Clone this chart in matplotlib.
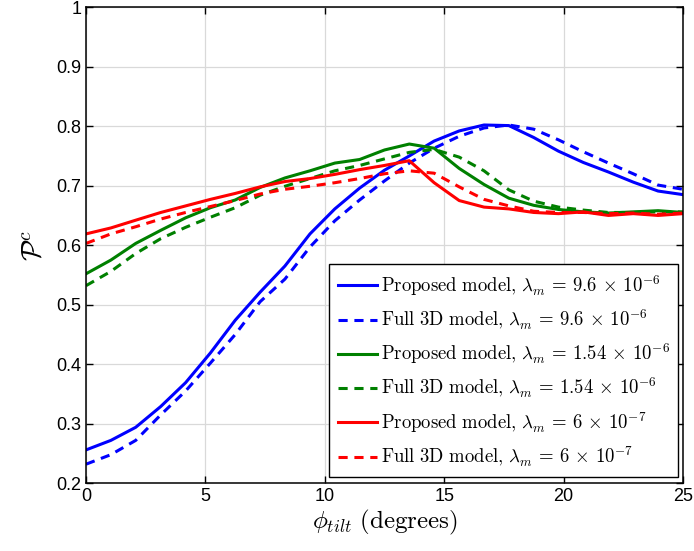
import matplotlib
matplotlib.use("Agg")
import matplotlib.pyplot as plt

plt.rcParams["font.family"] = ["Liberation Sans", "DejaVu Sans"]
plt.rcParams["mathtext.fontset"] = "cm"

# tilt angle samples (degrees)
tilt = [0, 1.04, 2.08, 3.13, 4.17, 5.21, 6.25, 7.29, 8.33, 9.38, 10.42, 11.46, 12.5,
        13.54, 14.58, 15.63, 16.67, 17.71, 18.75, 19.79, 20.83, 21.88, 22.92, 23.96, 25]

# coverage probability, lambda_m = 9.6e-6
prop_96 = [0.256, 0.272, 0.294, 0.329, 0.369, 0.419, 0.474, 0.521, 0.565, 0.619, 0.661, 0.696, 0.726,
           0.750, 0.775, 0.792, 0.802, 0.801, 0.781, 0.758, 0.739, 0.723, 0.706, 0.691, 0.685]
full_96 = [0.232, 0.248, 0.272, 0.315, 0.355, 0.402, 0.450, 0.505, 0.543, 0.597, 0.641, 0.676, 0.708,
           0.738, 0.763, 0.783, 0.797, 0.802, 0.795, 0.777, 0.757, 0.738, 0.720, 0.701, 0.694]

# lambda_m = 1.54e-6
prop_154 = [0.552, 0.575, 0.603, 0.625, 0.646, 0.663, 0.676, 0.697, 0.713, 0.725, 0.738, 0.744, 0.760,
            0.770, 0.763, 0.729, 0.702, 0.679, 0.667, 0.660, 0.656, 0.654, 0.656, 0.658, 0.655]
full_154 = [0.532, 0.556, 0.586, 0.611, 0.630, 0.647, 0.663, 0.684, 0.699, 0.712, 0.725, 0.734, 0.745,
            0.756, 0.761, 0.748, 0.725, 0.693, 0.674, 0.664, 0.659, 0.655, 0.655, 0.656, 0.656]

# lambda_m = 6e-7
prop_6 = [0.619, 0.629, 0.642, 0.655, 0.666, 0.677, 0.687, 0.698, 0.707, 0.712, 0.719, 0.727, 0.734,
          0.742, 0.705, 0.675, 0.664, 0.661, 0.655, 0.653, 0.656, 0.650, 0.653, 0.650, 0.653]
full_6 = [0.603, 0.619, 0.631, 0.644, 0.655, 0.665, 0.675, 0.686, 0.694, 0.699, 0.705, 0.712, 0.720,
          0.725, 0.721, 0.698, 0.677, 0.666, 0.657, 0.655, 0.655, 0.653, 0.654, 0.652, 0.654]

series = [
    (prop_96, "blue", "-", r"$\mathrm{Proposed\ model,}\,\lambda_m\,=\,9.6\,\times\,10^{-6}$"),
    (full_96, "blue", "--", r"$\mathrm{Full\ 3D\ model,}\,\lambda_m\,=\,9.6\,\times\,10^{-6}$"),
    (prop_154, "green", "-", r"$\mathrm{Proposed\ model,}\,\lambda_m\,=\,1.54\,\times\,10^{-6}$"),
    (full_154, "green", "--", r"$\mathrm{Full\ 3D\ model,}\,\lambda_m\,=\,1.54\,\times\,10^{-6}$"),
    (prop_6, "red", "-", r"$\mathrm{Proposed\ model,}\,\lambda_m\,=\,6\,\times\,10^{-7}$"),
    (full_6, "red", "--", r"$\mathrm{Full\ 3D\ model,}\,\lambda_m\,=\,6\,\times\,10^{-7}$"),
]

fig = plt.figure(figsize=(6.94, 5.51), dpi=100)
ax = fig.add_axes([0.124, 0.123, 0.86, 0.864])

for y, color, ls, label in series:
    ax.plot(tilt, y, color=color, linestyle=ls, linewidth=2.2,
            dashes=(3, 2.2) if ls == "--" else (None, None), label=label)

ax.set_xlim(0, 25)
ax.set_ylim(0.2, 1.0)
ax.set_xticks([0, 5, 10, 15, 20, 25])
ax.set_yticks([0.2, 0.3, 0.4, 0.5, 0.6, 0.7, 0.8, 0.9, 1.0])
ax.set_yticklabels(["0.2", "0.3", "0.4", "0.5", "0.6", "0.7", "0.8", "0.9", "1"])
ax.tick_params(direction="in", top=True, right=True, labelsize=13, length=5, width=1)
ax.grid(True, color="#d9d9d9", linewidth=0.9)
ax.set_axisbelow(True)
for sp in ax.spines.values():
    sp.set_linewidth(1.1)

ax.set_xlabel(r"$\phi_{tilt}\ \mathrm{(degrees)}$", fontsize=18, labelpad=2)
ax.set_ylabel(r"$\mathcal{P}^c$", fontsize=20, labelpad=6)

leg = ax.legend(loc="lower right", bbox_to_anchor=(0.992, 0.013), borderaxespad=0,
                fontsize=13.5, handlelength=2.1, handletextpad=0.2, labelspacing=0.52,
                fancybox=False, edgecolor="black", framealpha=1, borderpad=0.45)
leg.get_frame().set_linewidth(1.0)

fig.savefig("out.png", dpi=100)
